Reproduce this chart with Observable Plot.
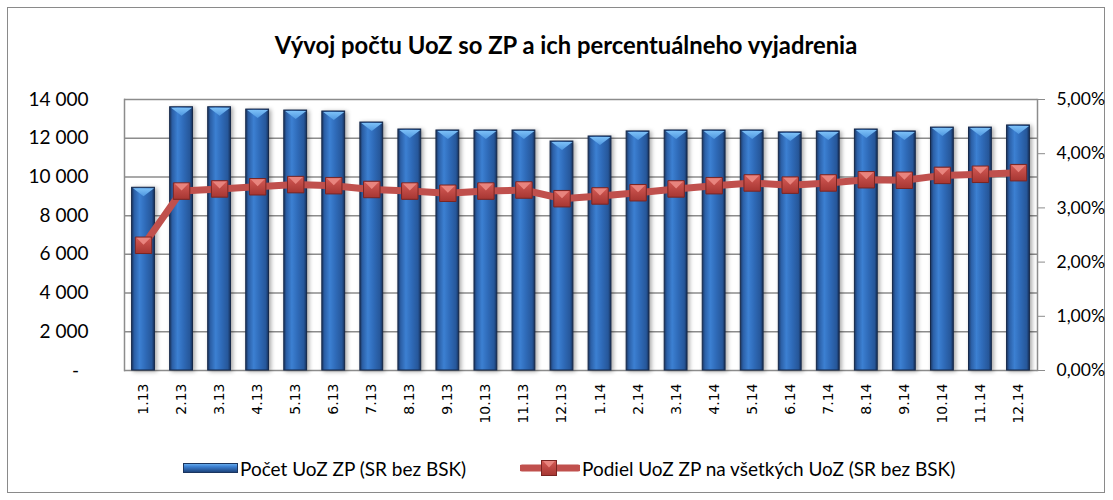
<!DOCTYPE html>
<html><head><meta charset="utf-8">
<script src="https://cdn.jsdelivr.net/npm/d3@7"></script>
<script src="https://cdn.jsdelivr.net/npm/@observablehq/plot@0.6"></script>
<style>
body{margin:0;background:#fff;width:1113px;height:500px;position:relative;overflow:hidden;font-family:Lato,sans-serif;color:#000;}
#frame{position:absolute;left:7px;top:7px;width:1098px;height:486px;border:1px solid #8a8a8a;box-sizing:border-box;}
#title{position:absolute;left:0;width:1132px;top:31px;text-align:center;font-weight:bold;font-size:23.8px;}
#chart{position:absolute;left:0;top:80px;}
#chart g[aria-label="bar"] rect{filter:drop-shadow(2px 1px 2px rgba(0,0,0,0.35));}
#legend{position:absolute;top:455px;left:0;width:1113px;height:26px;font-size:19px;}
#legend .item{position:absolute;top:0;display:flex;align-items:center;height:26px;}
#legend svg{display:block;}
</style>
</head><body>
<svg width="0" height="0" style="position:absolute">
  <defs>
    <linearGradient id="barGrad" x1="0" y1="0" x2="1" y2="0">
      <stop offset="0" stop-color="#1b355f"/>
      <stop offset="0.12" stop-color="#2b5fa6"/>
      <stop offset="0.35" stop-color="#3c80d2"/>
      <stop offset="0.6" stop-color="#2f6bb9"/>
      <stop offset="0.88" stop-color="#26579a"/>
      <stop offset="1" stop-color="#16305a"/>
    </linearGradient>
    <linearGradient id="capGrad" x1="0" y1="0" x2="0" y2="1">
      <stop offset="0" stop-color="#7cc0f7"/>
      <stop offset="1" stop-color="#4f97e0"/>
    </linearGradient>
    <linearGradient id="mkGrad" x1="0" y1="0" x2="0" y2="1">
      <stop offset="0" stop-color="#d45a55"/>
      <stop offset="1" stop-color="#a63632"/>
    </linearGradient>
    <linearGradient id="legBar" x1="0" y1="0" x2="0" y2="1">
      <stop offset="0" stop-color="#6eb2f0"/>
      <stop offset="0.35" stop-color="#3c80d2"/>
      <stop offset="1" stop-color="#1b3f75"/>
    </linearGradient>
  </defs>
</svg>
<div id="frame"></div>
<div id="title">Vývoj počtu UoZ so ZP a ich percentuálneho vyjadrenia</div>
<div id="chart"></div>
<div id="legend"></div>
<script>
const months = ["1.13","2.13","3.13","4.13","5.13","6.13","7.13","8.13","9.13","10.13","11.13","12.13",
                "1.14","2.14","3.14","4.14","5.14","6.14","7.14","8.14","9.14","10.14","11.14","12.14"];
const counts = [9440,13600,13600,13480,13430,13380,12810,12450,12400,12400,12400,11830,
                12090,12350,12400,12400,12400,12300,12350,12450,12350,12550,12550,12660];
const shares = [2.31,3.31,3.35,3.39,3.43,3.41,3.34,3.31,3.27,3.31,3.33,3.17,
                3.22,3.28,3.35,3.41,3.46,3.42,3.46,3.52,3.51,3.60,3.62,3.65];
const leftTicks = [0,2000,4000,6000,8000,10000,12000,14000];
const rightTicks = [0,1,2,3,4,5];
const seriesNames = ["Počet UoZ ZP (SR bez BSK)","Podiel UoZ ZP na všetkých UoZ (SR bez BSK)"];

const leftMax = 14000, rightMax = 5, ratio = leftMax / rightMax;
const data = months.map((m, i) => ({month: m, count: counts[i], share: shares[i]}));

const fmtLeft = v => v === 0 ? "-\u2002" : d3.format(",")(v).replace(/,/g, "\u00a0");
const fmtRight = p => p.toFixed(2).replace(".", ",") + "%";

// bevel cap on top of bars (down-pointing flat triangle)
const barCap = {draw(ctx) { ctx.moveTo(-10.5, 0.5); ctx.lineTo(10.5, 0.5); ctx.lineTo(0, 8.5); ctx.closePath(); }};
const markCap = {draw(ctx) { ctx.moveTo(-7, -7.5); ctx.lineTo(7, -7.5); ctx.lineTo(0, -0.5); ctx.closePath(); }};

const chart = Plot.plot({
  width: 1113, height: 360,
  marginLeft: 124, marginRight: 76, marginTop: 19, marginBottom: 70,
  x: {domain: months, paddingInner: 0.4, paddingOuter: 0.2, round: false, label: null},
  y: {domain: [0, leftMax], label: null},
  style: {fontFamily: "Lato, sans-serif", fontSize: "19px", color: "#000", background: "transparent"},
  marks: [
    Plot.gridY(leftTicks, {stroke: "#8c8c8c", strokeOpacity: 1, strokeWidth: 1.5}),
    Plot.frame({anchor: "left", stroke: "#8c8c8c", strokeWidth: 1.5}),
    Plot.frame({anchor: "right", stroke: "#8c8c8c", strokeWidth: 1.5}),
    Plot.axisY({anchor: "left", ticks: leftTicks, tickFormat: fmtLeft, tickSize: 0, tickPadding: 36, fontSize: 19, label: null}),
    Plot.axisY({anchor: "right", ticks: rightTicks.map(p => p * ratio), tickFormat: v => fmtRight(v / ratio),
                tickSize: 7, tickPadding: 12, stroke: "#8c8c8c", fontSize: 17.5, label: null}),
    Plot.axisX({tickRotate: -90, tickSize: 0, tickPadding: 13, fontSize: 14, fontFamily: "DejaVu Sans", label: null}),
    Plot.barY(data, {x: "month", y: "count", fill: "url(#barGrad)", stroke: "#15284a", strokeWidth: 1}),
    Plot.dot(data, {x: "month", y: "count", symbol: barCap, r: 1, fill: "url(#capGrad)", stroke: "none"}),
    Plot.line(data, {x: "month", y: d => d.share * ratio, stroke: "#c0504d", strokeWidth: 7, strokeLinejoin: "round"}),
    Plot.dot(data, {x: "month", y: d => d.share * ratio, symbol: "square", r: 9.3, fill: "url(#mkGrad)", stroke: "#7a2522", strokeWidth: 1}),
    Plot.dot(data, {x: "month", y: d => d.share * ratio, symbol: markCap, r: 1, fill: "#e8847e", stroke: "none"})
  ]
});
document.getElementById("chart").appendChild(chart);

// legend
const legend = document.getElementById("legend");
const item1 = document.createElement("div");
item1.className = "item"; item1.style.left = "183px";
item1.innerHTML = `<svg width="56" height="12"><rect x="0.5" y="1.5" width="54" height="9" fill="url(#legBar)" stroke="#1b355f" stroke-width="1"/></svg><span style="margin-left:1px">${seriesNames[0]}</span>`;
const item2 = document.createElement("div");
item2.className = "item"; item2.style.left = "520px";
item2.innerHTML = `<svg width="60" height="20"><line x1="2" y1="10" x2="58" y2="10" stroke="#c0504d" stroke-width="7" stroke-linecap="round"/><rect x="21.5" y="2.5" width="15" height="15" fill="url(#mkGrad)" stroke="#7a2522"/><path d="M23,3 L35,3 L29,9.5 Z" fill="#e8847e"/></svg><span style="margin-left:2px">${seriesNames[1]}</span>`;
legend.appendChild(item1); legend.appendChild(item2);
</script>
</body></html>
